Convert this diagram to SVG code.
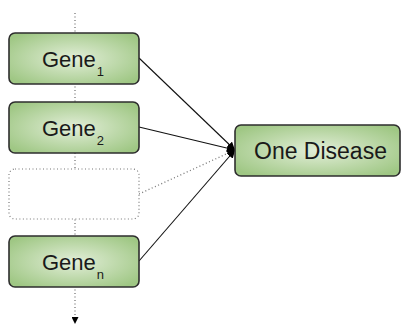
<svg xmlns="http://www.w3.org/2000/svg" width="403" height="329" viewBox="0 0 403 329">
<defs>
<radialGradient id="g" cx="50%" cy="50%" r="62%">
<stop offset="0" stop-color="#e2eed8"/>
<stop offset="1" stop-color="#9fc784"/>
</radialGradient>
<marker id="ah" viewBox="0 0 10 10" refX="10" refY="5" markerWidth="8" markerHeight="8" markerUnits="userSpaceOnUse" orient="auto">
<path d="M0,0 L10,5 L0,10 Z" fill="#000"/>
</marker>
<marker id="ahs" viewBox="0 0 10 10" refX="10" refY="5" markerWidth="7" markerHeight="7" markerUnits="userSpaceOnUse" orient="auto">
<path d="M0,0 L10,5 L0,10 Z" fill="#000"/>
</marker>
</defs>
<style>
.box{fill:url(#g);stroke:#2e2e2e;stroke-width:1.6}
.dbox{fill:#fff;stroke:#777;stroke-width:1.2;stroke-dasharray:1 2.5}
.t{font-family:"Liberation Sans",Arial,sans-serif;font-size:22px;fill:#1a1a1a}
.sub{font-size:13px}
.ln{stroke:#111;stroke-width:1.1;fill:none}
.dl{stroke:#777;stroke-width:1.3;fill:none;stroke-dasharray:1 2.5}
</style>
<g id="connectors">
<line class="dl" x1="75" y1="13" x2="75" y2="324" marker-end="url(#ahs)"/>
<line class="ln" x1="139" y1="58" x2="235" y2="150" marker-end="url(#ah)"/>
<line class="ln" x1="139" y1="127" x2="235" y2="150" marker-end="url(#ah)"/>
<line class="dl" x1="139" y1="194" x2="235" y2="150" marker-end="url(#ah)"/>
<line class="ln" x1="139" y1="261" x2="235" y2="150" marker-end="url(#ah)"/>
</g>
<g id="gene1">
<rect class="box" x="9" y="33" width="130" height="51" rx="6"/>
<text class="t" x="42" y="67">Gene<tspan class="sub" dx="1" dy="9">1</tspan></text>
</g>
<g id="gene2">
<rect class="box" x="9" y="102" width="130" height="51" rx="6"/>
<text class="t" x="42" y="136">Gene<tspan class="sub" dx="1" dy="9">2</tspan></text>
</g>
<g id="geneblank">
<rect class="dbox" x="9" y="169" width="130" height="50" rx="6"/>
</g>
<g id="genen">
<rect class="box" x="9" y="236" width="130" height="51" rx="6"/>
<text class="t" x="42" y="270">Gene<tspan class="sub" dx="1" dy="9">n</tspan></text>
</g>
<g id="disease">
<rect class="box" x="235" y="125" width="165" height="51" rx="6"/>
<text class="t" x="254" y="159" style="font-size:23px">One Disease</text>
</g>
</svg>
